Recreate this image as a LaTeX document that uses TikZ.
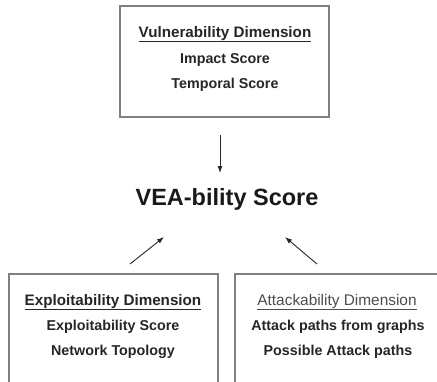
\documentclass[tikz,border=0pt]{standalone}
\usepackage{fontspec}
\setmainfont{Liberation Sans}
\usetikzlibrary{arrows.meta}
\begin{document}
\begin{tikzpicture}[x=1pt,y=-1pt,
  boxline/.style={draw=black!50,line width=1.2pt},
  txt/.style={font=\bfseries\fontsize{14.3}{16}\selectfont,text=black!85,inner sep=0pt,anchor=base},
  hdr/.style={font=\bfseries\fontsize{15.2}{17}\selectfont,text=black!85,inner sep=0pt,anchor=base},
  hdrl/.style={font=\fontsize{15.4}{17}\selectfont,text=black!70,inner sep=0pt,anchor=base},
  arr/.style={draw=black!85,line width=0.9pt,-{Latex[length=7pt,width=5pt]}}]
\useasboundingbox (0,0) rectangle (437,381);
% top box
\draw[boxline] (120,6) rectangle (329,117);
\node[hdr] (vh) at (225,37) {\underline{Vulnerability Dimension}};
\node[txt] (v1) at (225,63) {Impact Score};
\node[txt] (v2) at (225,88) {Temporal Score};
% main score
\node[font=\bfseries\fontsize{23.5}{27}\selectfont,text=black!90,inner sep=0pt,anchor=base] (vea) at (227,205) {VEA-bility Score};
\coordinate (ta) at (220,135);
\coordinate (tb) at (220,173);
\draw[arr] (ta) -- (tb);
% left box
\draw[boxline] (9,390) -- (9,274) -- (218,274) -- (218,390);
\node[hdr] (eh) at (113,305) {\underline{Exploitability Dimension}};
\node[txt] (e1) at (113,330) {Exploitability Score};
\node[txt] (e2) at (113,355) {Network Topology};
\coordinate (la) at (130,264);
\coordinate (lb) at (164,237);
\draw[arr] (la) -- (lb);
% right box
\draw[boxline] (235,390) -- (235,274) -- (445,274);
\node[hdrl] (ah) at (337,305) {\underline{Attackability Dimension}};
\node[txt] (a1) at (338,330) {Attack paths from graphs};
\node[txt] (a2) at (338,355) {Possible Attack paths};
\coordinate (ra) at (317,264);
\coordinate (rb) at (285,237);
\draw[arr] (ra) -- (rb);
\end{tikzpicture}
\end{document}
